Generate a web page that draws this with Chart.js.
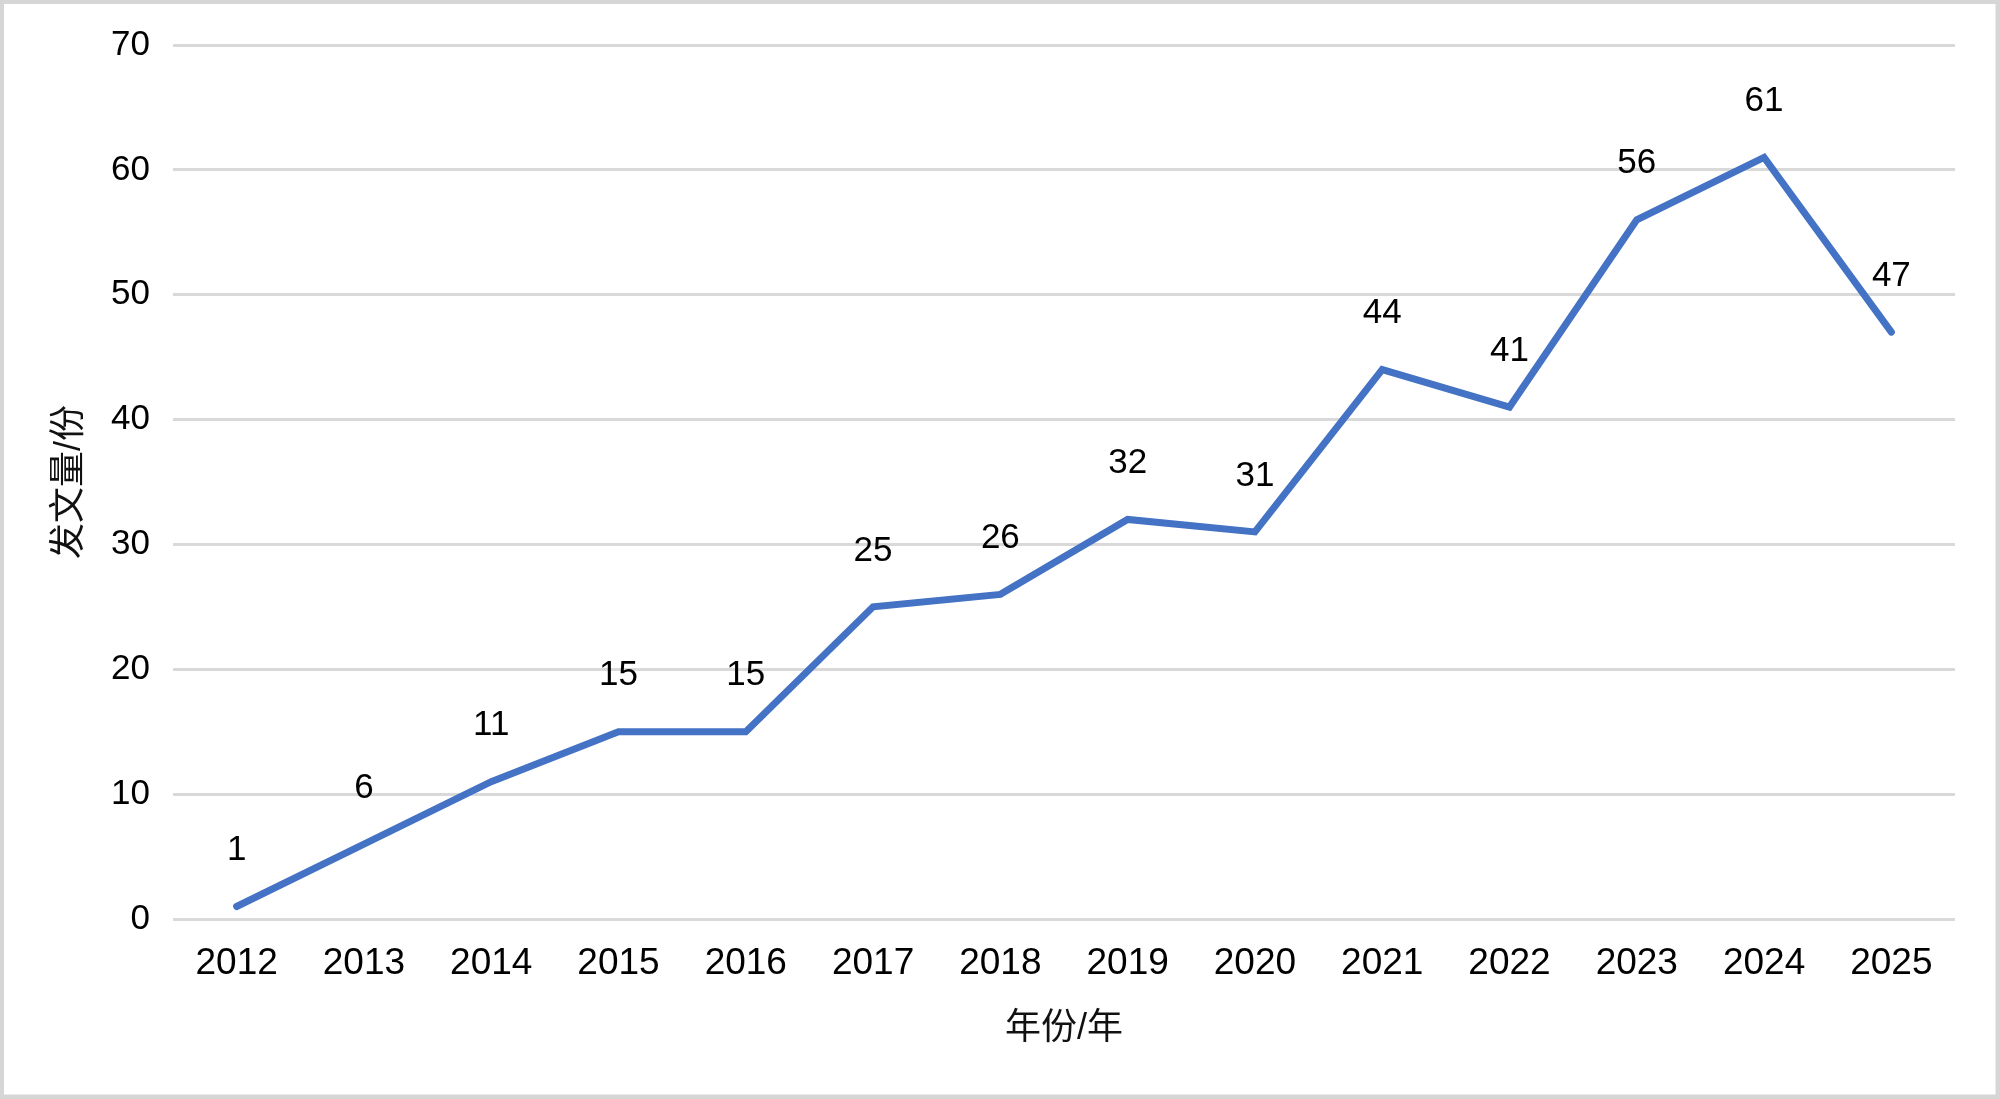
<!DOCTYPE html>
<html><head><meta charset="utf-8">
<script src="https://cdn.jsdelivr.net/npm/chart.js@4.4.1/dist/chart.umd.min.js"></script>
<style>html,body{margin:0;padding:0;background:#fff;overflow:hidden}canvas{display:block}</style>
</head><body>
<canvas id="c" width="2000" height="1099"></canvas>
<script>
const years = ['2012','2013','2014','2015','2016','2017','2018','2019','2020','2021','2022','2023','2024','2025'];
const counts = [1, 6, 11, 15, 15, 25, 26, 32, 31, 44, 41, 56, 61, 47];
const yMin = 0, yMax = 70, yStep = 10;
const xTitle = '年份/年';
const yTitle = '发文量/份';

const FONT = "'Liberation Sans', Arial, 'Noto Sans CJK SC', sans-serif";

const framePlugin = {
  id: 'frame',
  beforeDraw(chart) {
    const ctx = chart.ctx;
    ctx.save();
    ctx.fillStyle = '#ffffff';
    ctx.fillRect(0, 0, chart.width, chart.height);
    ctx.strokeStyle = '#d6d6d6';
    ctx.lineWidth = 5;
    ctx.strokeRect(1.5, 1.5, chart.width - 3.5, chart.height - 3.5);
    ctx.restore();
  }
};

const labelPlugin = {
  id: 'valueLabels',
  afterDatasetsDraw(chart) {
    const ctx = chart.ctx;
    const xs = chart.scales.x, ys = chart.scales.y;
    ctx.save();
    ctx.font = '35px ' + FONT;
    ctx.fillStyle = '#000';
    ctx.textAlign = 'center';
    ctx.textBaseline = 'middle';
    counts.forEach((v, i) => {
      ctx.fillText(String(v), xs.getPixelForValue(i), ys.getPixelForValue(v) - 56);
    });
    ctx.restore();
  }
};

new Chart(document.getElementById('c'), {
  type: 'line',
  data: {
    labels: years,
    datasets: [{
      data: counts,
      borderColor: '#4472C4',
      borderWidth: 7,
      borderCapStyle: 'round',
      borderJoinStyle: 'miter',
      pointRadius: 0,
      tension: 0,
      fill: false
    }]
  },
  options: {
    responsive: false,
    animation: false,
    devicePixelRatio: 1,
    layout: { padding: { top: 45, right: 45, bottom: 0, left: 0 } },
    plugins: { legend: { display: false }, tooltip: { enabled: false } },
    scales: {
      x: {
        offset: true,
        grid: { display: false, drawTicks: false },
        border: { display: false },
        ticks: { color: '#000', font: { size: 37, family: FONT }, padding: 23, maxRotation: 0, autoSkip: false },
        title: { display: true, text: xTitle, color: '#111', font: { size: 36, family: FONT }, padding: { top: 0, bottom: 48 } },
        afterFit(s) { s.height = 180; }
      },
      y: {
        min: yMin, max: yMax,
        grid: { color: '#d9d9d9', lineWidth: 3, drawTicks: false },
        border: { display: false },
        ticks: { stepSize: yStep, color: '#000', font: { size: 35, family: FONT }, padding: 23 },
        title: { display: true, text: yTitle, color: '#111', font: { size: 36, family: FONT }, padding: { top: 48, bottom: 0 } },
        afterFit(s) { s.width = 173; }
      }
    }
  },
  plugins: [framePlugin, labelPlugin]
});
</script>
</body></html>
